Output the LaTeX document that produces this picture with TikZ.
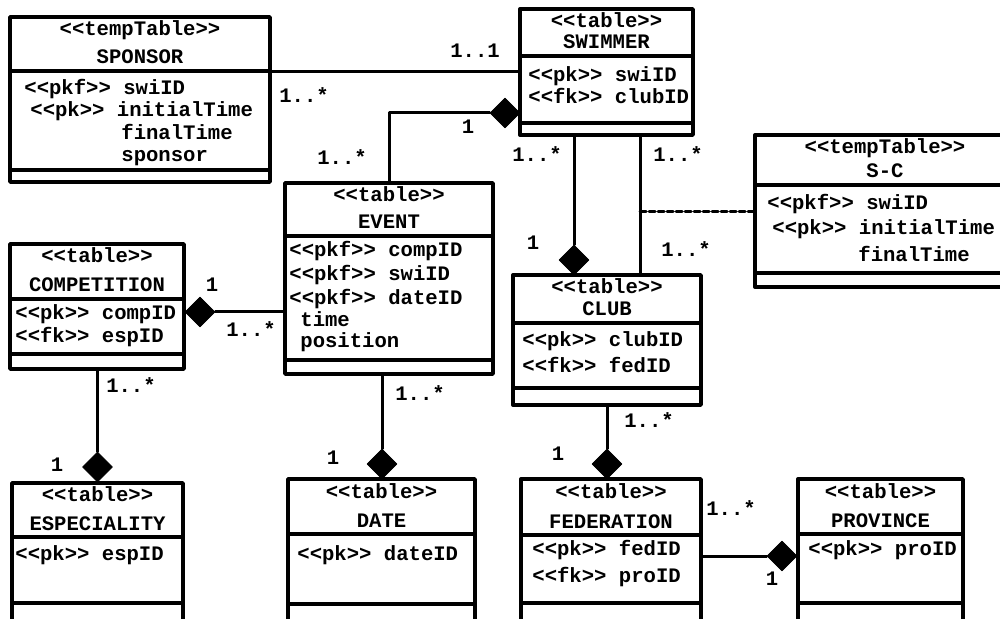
\documentclass[tikz,border=0pt]{standalone}
\usepackage{fontspec}
\setmonofont{Liberation Mono}
\usetikzlibrary{shapes.geometric}
\newcommand{\umlfont}{\ttfamily\bfseries\fontsize{10.3}{12}\selectfont}
\tikzset{
  tblbox/.style={draw, line width=1.7pt, inner sep=0pt},
  tblline/.style={line width=1.7pt},
  txt/.style={inner sep=0pt, font=\umlfont, text height=7pt, text depth=2pt},
  hdr/.style={txt},
  attr/.style={txt, anchor=west},
  mult/.style={txt},
  compo/.style={diamond, fill=black, draw=black, inner sep=0pt, minimum width=15pt, minimum height=15pt},
  assoc/.style={line width=1.5pt},
  link/.style={line width=1.5pt, dash pattern=on 3pt off 1.5pt}
}
% name, x1, y1, x2, y2, divider 1, divider 2, stereotype, title
\newcommand{\umltable}[9]{%
  \node[tblbox, minimum width={(#4-#2)*0.5pt}, minimum height={(#5-#3)*0.5pt}] (#1) at ({(#2+#4)/2},{(#3+#5)/2}) {};
  \draw[tblline] (#2,#6) -- (#4,#6) (#2,#7) -- (#4,#7);
  \node[hdr] (#1-st) at ({(#2+#4)/2},{#3+14}) {<<#8>>};
  \node[hdr] (#1-nm) at ({(#2+#4)/2},{#6-12}) {#9};
}
\begin{document}
\begin{tikzpicture}[x=0.5pt, y=-0.5pt, line join=round, line cap=round]
  \useasboundingbox (0,0) rectangle (1000,619);
  \clip (0,0) rectangle (1000,619);

  \umltable{sponsor}{10}{17}{270}{182}{71}{170}{tempTable}{SPONSOR}
  \node[attr] (sponsor-a1) at (24,90) {<<pkf>> swiID};
  \node[attr] (sponsor-a2) at (30,112) {<<pk>> initialTime};
  \node[attr] (sponsor-a3) at (121,135) {finalTime};
  \node[attr] (sponsor-a4) at (121,157) {sponsor};

  \umltable{swimmer}{520}{9}{693}{135}{56}{123}{table}{SWIMMER}
  \node[attr] (swimmer-a1) at (528,77) {<<pk>> swiID};
  \node[attr] (swimmer-a2) at (528,99) {<<fk>> clubID};

  \umltable{event}{285}{183}{493}{374}{236}{360}{table}{EVENT}
  \node[attr] (event-a1) at (289,252) {<<pkf>> compID};
  \node[attr] (event-a2) at (289,276) {<<pkf>> swiID};
  \node[attr] (event-a3) at (289,300) {<<pkf>> dateID};
  \node[attr] (event-a4) at (300,322) {time};
  \node[attr] (event-a5) at (300,343) {position};

  \umltable{competition}{10}{244}{184}{369}{299}{354}{table}{COMPETITION}
  \node[attr] (competition-a1) at (15,315) {<<pk>> compID};
  \node[attr] (competition-a2) at (15,338) {<<fk>> espID};

  \umltable{sc}{755}{135}{1015}{287}{185}{273}{tempTable}{S-C}
  \node[attr] (sc-a1) at (767,205) {<<pkf>> swiID};
  \node[attr] (sc-a2) at (772,230) {<<pk>> initialTime};
  \node[attr] (sc-a3) at (858,257) {finalTime};

  \umltable{club}{513}{275}{701}{405}{323}{388}{table}{CLUB}
  \node[attr] (club-a1) at (522,342) {<<pk>> clubID};
  \node[attr] (club-a2) at (522,368) {<<fk>> fedID};

  \umltable{especiality}{12}{483}{183}{640}{537}{603}{table}{ESPECIALITY}
  \node[attr] (especiality-a1) at (15,555) {<<pk>> espID};

  \umltable{date}{288}{479}{475}{640}{534}{604}{table}{DATE}
  \node[attr] (date-a1) at (297,555) {<<pk>> dateID};

  \umltable{federation}{521}{479}{701}{640}{535}{603}{table}{FEDERATION}
  \node[attr] (federation-a1) at (532,550) {<<pk>> fedID};
  \node[attr] (federation-a2) at (532,577) {<<fk>> proID};

  \umltable{province}{798}{479}{963}{640}{534}{603}{table}{PROVINCE}
  \node[attr] (province-a1) at (808,550) {<<pk>> proID};

  \draw[assoc] (swimmer.west) -- (swimmer.west -| sponsor.east);
  \node[compo] (dsw) at (505,113) {};
  \draw[assoc] (dsw.west) -| (event.north);
  \node[compo] (dcomp) at (200,312) {};
  \draw[assoc] (dcomp.east) -- (dcomp.east -| event.west);
  \node[compo] (desp) at (97.5,467) {};
  \draw[assoc] (desp.north) -- (desp.north |- competition.south);
  \node[compo] (ddate) at (382,464) {};
  \draw[assoc] (ddate.north) -- (ddate.north |- event.south);
  \node[compo] (dclub) at (574,260) {};
  \draw[assoc] (dclub.north) -- (dclub.north |- swimmer.south);
  \coordinate (sclink) at (640,212);
  \draw[assoc] (sclink |- swimmer.south) -- (sclink |- club.north);
  \draw[link] (sclink) -- (sclink -| sc.west);
  \node[compo] (dfed) at (607,464) {};
  \draw[assoc] (dfed.north) -- (club.south);
  \node[compo] (dprov) at (782,556) {};
  \draw[assoc] (dprov.west) -- (dprov.west -| federation.east);

  \node[mult] (m1) at (475,53) {1..1};
  \node[mult] (m2) at (304,98) {1..*};
  \node[mult] (m3) at (468,129) {1};
  \node[mult] (m4) at (342,160) {1..*};
  \node[mult] (m5) at (212,287) {1};
  \node[mult] (m6) at (251,332) {1..*};
  \node[mult] (m7) at (131,388) {1..*};
  \node[mult] (m8) at (57,467) {1};
  \node[mult] (m9) at (420,396) {1..*};
  \node[mult] (m10) at (333,460) {1};
  \node[mult] (m11) at (537,157) {1..*};
  \node[mult] (m12) at (533,245) {1};
  \node[mult] (m13) at (678,157) {1..*};
  \node[mult] (m14) at (686,252) {1..*};
  \node[mult] (m15) at (649,423) {1..*};
  \node[mult] (m16) at (558,455) {1};
  \node[mult] (m17) at (731,510) {1..*};
  \node[mult] (m18) at (772,580) {1};
\end{tikzpicture}
\end{document}
